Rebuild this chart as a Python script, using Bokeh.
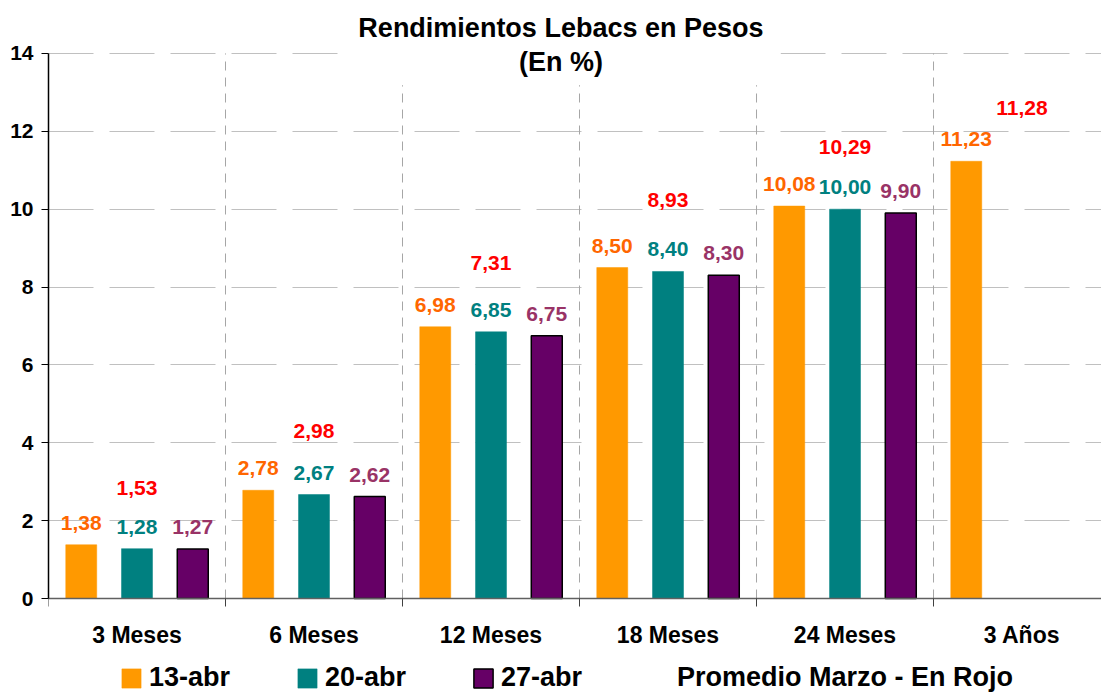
from bokeh.plotting import figure
from bokeh.models import (ColumnDataSource, Range1d, FixedTicker, LabelSet, Label,
                          Legend, LegendItem, BoxAnnotation)
from bokeh.core.properties import value
from bokeh.embed import file_html
from bokeh.resources import INLINE

# ---------------- data ----------------
categories = ["3 Meses", "6 Meses", "12 Meses", "18 Meses", "24 Meses", "3 Años"]
series_names = ["13-abr", "20-abr", "27-abr"]
v_13abr = [1.38, 2.78, 6.98, 8.50, 10.08, 11.23]
v_20abr = [1.28, 2.67, 6.85, 8.40, 10.00, None]
v_27abr = [1.27, 2.62, 6.75, 8.30, 9.90, None]
promedio_marzo = [1.53, 2.98, 7.31, 8.93, 10.29, 11.28]
y_ticks = [0, 2, 4, 6, 8, 10, 12, 14]
title_line1 = "Rendimientos Lebacs en Pesos"
title_line2 = "(En %)"
legend_note = "Promedio Marzo - En Rojo"

# ---------------- style ----------------
FONT = "Liberation Sans"
bar_colors = ["#FF9900", "#008080", "#660066"]
bar_lines = [None, None, "#000000"]
label_colors = ["#FF6600", "#008080", "#993366"]
offsets = [-0.315, 0.0, 0.315]
BAR_W = 0.175
Y_MIN, Y_MAX = y_ticks[0], y_ticks[-1]


def fmt(v):
    return f"{v:.2f}".replace(".", ",")


n = len(categories)
centers = [i + 0.5 for i in range(n)]
bounds_x = list(range(n + 1))

p = figure(width=1101, height=693,
           x_range=Range1d(0, 5.949), y_range=Range1d(-2.44, 15.36),
           output_backend="svg", toolbar_location=None,
           min_border_left=48, min_border_right=0,
           min_border_top=0, min_border_bottom=0)
p.outline_line_color = None
p.background_fill_color = "white"

# x axis (fixed at y = 0)
xax = p.xaxis[0]
xax.fixed_location = 0
xax.ticker = FixedTicker(ticks=centers, minor_ticks=bounds_x)
xax.major_label_overrides = {c: name for c, name in zip(centers, categories)}
xax.major_tick_out = 0
xax.major_tick_in = 0
xax.minor_tick_out = 8
xax.minor_tick_in = 0
xax.minor_tick_line_color = "#404040"
xax.axis_line_color = "#606060"
xax.axis_line_width = 1.5
xax.major_label_text_font = FONT
xax.major_label_text_font_style = "bold"
xax.major_label_text_font_size = "23px"
xax.major_label_text_color = "black"
xax.major_label_standoff = 15

# y axis
yax = p.yaxis[0]
yax.ticker = FixedTicker(ticks=y_ticks)
yax.bounds = (Y_MIN, Y_MAX)
yax.major_tick_out = 7
yax.major_tick_in = 0
yax.major_tick_line_color = "black"
yax.axis_line_color = "black"
yax.axis_line_width = 1.5
yax.major_label_text_font = FONT
yax.major_label_text_font_style = "bold"
yax.major_label_text_font_size = "21px"
yax.major_label_text_color = "black"
yax.major_label_standoff = 8

# grids
p.ygrid.ticker = FixedTicker(ticks=y_ticks[1:])
p.ygrid.grid_line_color = "#c0c0c0"
p.ygrid.grid_line_dash = "45 16"
p.ygrid.grid_line_width = 1
p.xgrid.visible = False
sep = bounds_x[1:-1]
p.segment(x0=sep, x1=sep, y0=[Y_MIN] * len(sep), y1=[Y_MAX] * len(sep),
          line_color="#a6a6a6", line_dash="9 7", line_width=1)

# bars + labels
all_series = [v_13abr, v_20abr, v_27abr]
renderers = []
for k, vals in enumerate(all_series):
    xs = [centers[i] + offsets[k] for i, v in enumerate(vals) if v is not None]
    tops = [v for v in vals if v is not None]
    src = ColumnDataSource(dict(x=xs, top=tops, lbl=[fmt(v) for v in tops]))
    r = p.vbar(x="x", top="top", bottom=0, width=BAR_W, source=src,
               fill_color=bar_colors[k],
               line_color=bar_lines[k] if bar_lines[k] else bar_colors[k],
               line_width=1.5 if bar_lines[k] else 0.5)
    renderers.append(r)
    p.add_layout(LabelSet(x="x", y="top", text="lbl", source=src, y_offset=22,
                          text_align="center", text_baseline="middle",
                          text_color=label_colors[k], text_font=value(FONT),
                          text_font_style="bold", text_font_size="21px"))

# title background (covers grid)
p.add_layout(BoxAnnotation(left=1.65, right=4.136, bottom=13.18, top=14.3,
                           fill_color="white", fill_alpha=1.0, line_alpha=0))

# red averages
red_src = ColumnDataSource(dict(x=centers, y=promedio_marzo,
                                lbl=[fmt(v) for v in promedio_marzo]))
p.add_layout(LabelSet(x="x", y="y", text="lbl", source=red_src, y_offset=51,
                      text_align="center", text_baseline="middle",
                      text_color="#FF0000", text_font=value(FONT),
                      text_font_style="bold", text_font_size="21px"))

# title
p.add_layout(Label(x=2.895, y=Y_MAX, y_offset=25, text=title_line1,
                   text_align="center", text_baseline="middle",
                   text_font=FONT, text_font_style="bold", text_font_size="27px",
                   text_color="black"))
p.add_layout(Label(x=2.895, y=Y_MAX, y_offset=-9, text=title_line2,
                   text_align="center", text_baseline="middle",
                   text_font=FONT, text_font_style="bold", text_font_size="27px",
                   text_color="black"))

# legend
dummy = p.vbar(x=[], top=[], width=BAR_W, fill_alpha=0, line_alpha=0)
items = [LegendItem(label=nm, renderers=[r]) for nm, r in zip(series_names, renderers)]
items.append(LegendItem(label=legend_note, renderers=[dummy]))
legend = Legend(items=items, orientation="horizontal", location=(71, 0),
                glyph_width=24, glyph_height=24, label_standoff=6,
                label_width=146, spacing=0, padding=0, margin=0,
                label_text_font=FONT, label_text_font_style="bold",
                label_text_font_size="27px", label_text_color="black",
                background_fill_alpha=0, border_line_alpha=0)
p.add_layout(legend)

open("out.html", "w").write(file_html(p, INLINE))
